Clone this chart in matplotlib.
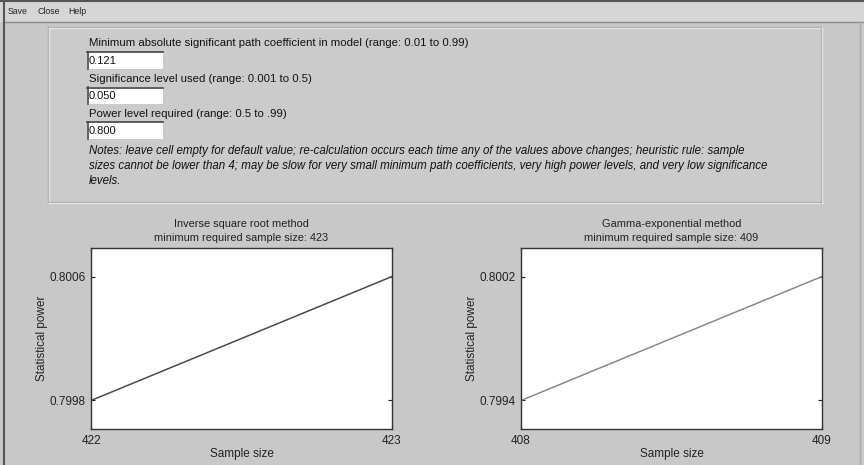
import matplotlib
matplotlib.use("Agg")
import matplotlib.pyplot as plt
from matplotlib.patches import Rectangle
from matplotlib.lines import Line2D
from matplotlib.ticker import FormatStrFormatter

plt.rcParams['font.family'] = ['Liberation Sans', 'DejaVu Sans']

# ---- data ----
menu_items = ["Save", "Close", "Help"]
field_labels = [
    "Minimum absolute significant path coefficient in model (range: 0.01 to 0.99)",
    "Significance level used (range: 0.001 to 0.5)",
    "Power level required (range: 0.5 to .99)",
]
field_values = ["0.121", "0.050", "0.800"]
notes_lines = [
    "Notes: leave cell empty for default value; re-calculation occurs each time any of the values above changes; heuristic rule: sample",
    "sizes cannot be lower than 4; may be slow for very small minimum path coefficients, very high power levels, and very low significance",
    "levels.",
]
left_title = "Inverse square root method\nminimum required sample size: 423"
left_sizes = [422, 423]
left_power = [0.7998, 0.8006]
right_title = "Gamma-exponential method\nminimum required sample size: 409"
right_sizes = [408, 409]
right_power = [0.7994, 0.8002]

W, H = 864, 465
BG = "#c8c8c8"
fig = plt.figure(figsize=(W / 100, H / 100), dpi=100, facecolor=BG)


def fx(x):
    return x / W


def fy(y):
    return 1 - y / H


def rect(x0, y0, x1, y1, **kw):
    fig.patches.append(Rectangle((fx(x0), fy(y1)), fx(x1) - fx(x0), fy(y0) - fy(y1),
                                 transform=fig.transFigure, **kw))


def hline(x0, x1, y, color, lw=1.0):
    fig.lines.append(Line2D([fx(x0), fx(x1)], [fy(y), fy(y)], transform=fig.transFigure,
                            color=color, lw=lw))


def vline(x, y0, y1, color, lw=1.0):
    fig.lines.append(Line2D([fx(x), fx(x)], [fy(y0), fy(y1)], transform=fig.transFigure,
                            color=color, lw=lw))


# window frame & menu bar
rect(0, 0, W, 22, facecolor="#d6d6d6", edgecolor="none")
hline(0, W, 1, "#555555", 1.5)
hline(4, W, 22, "#8a8a8a", 1.0)
vline(3.5, 1, H, "#555555", 1.5)
vline(860, 22, H, "#aaaaaa", 1.0)
menu_x = [8, 38, 68]
for x, t in zip(menu_x, menu_items):
    fig.text(fx(x), fy(12), t, fontsize=6.3, va="center", ha="left", color="#222222")

# input panel (etched border)
rect(48, 27, 822, 203, facecolor="#cbcbcb", edgecolor="none")
hline(48, 822, 27, "#a8a8a8")
hline(48, 822, 28, "#e4e4e4")
vline(48, 27, 203, "#a8a8a8")
vline(49, 28, 202, "#e4e4e4")
hline(48, 822, 202, "#a8a8a8")
hline(48, 823, 203, "#e4e4e4")
vline(821, 27, 203, "#a8a8a8")
vline(822, 27, 203, "#e4e4e4")

label_y = [43, 79, 114]
box_y = [(52, 69), (87, 104), (122, 139)]
for t, ly, (b0, b1), v in zip(field_labels, label_y, box_y, field_values):
    fig.text(fx(89), fy(ly), t, fontsize=8.2, va="center", ha="left", color="#111111")
    rect(87, b0, 163, b1, facecolor="white", edgecolor="none")
    hline(87, 163, b0 + 0.5, "#444444", 1.2)
    vline(87.5, b0, b1, "#444444", 1.2)
    fig.text(fx(89), fy((b0 + b1) / 2 + 0.5), v, fontsize=8.0, va="center", ha="left",
             color="#111111")

notes_y = [151, 166, 181]
for t, ny in zip(notes_lines, notes_y):
    fig.text(fx(89), fy(ny), t, fontsize=8.3, style="italic", va="center", ha="left",
             color="#111111")


def make_axes(x0, x1, y0, y1, sizes, power, title, color):
    ax = fig.add_axes([fx(x0), fy(y1), fx(x1) - fx(x0), fy(y0) - fy(y1)])
    ax.set_facecolor("white")
    ax.plot(sizes, power, color=color, lw=1.1)
    ax.set_xlim(sizes[0], sizes[1])
    rng = power[1] - power[0]
    ax.set_ylim(power[0] - 0.23 * rng, power[1] + 0.23 * rng)
    ax.set_xticks(sizes)
    ax.set_yticks(power)
    ax.yaxis.set_major_formatter(FormatStrFormatter("%.4f"))
    ax.tick_params(direction="in", length=3, width=0.8, labelsize=8.5, colors="#222222",
                   right=True, top=True, pad=4)
    for s in ax.spines.values():
        s.set_color("#333333")
        s.set_linewidth(1.0)
    ax.set_title(title, fontsize=7.9, color="#222222", pad=5, linespacing=1.45)
    ax.set_xlabel("Sample size", fontsize=8.5, color="#222222", labelpad=1)
    ax.set_ylabel("Statistical power", fontsize=8.5, color="#222222", labelpad=1)
    return ax


make_axes(91, 392, 248, 429, left_sizes, left_power, left_title, "#4a4a4a")
make_axes(521, 822, 248, 429, right_sizes, right_power, right_title, "#8a8a8a")

fig.savefig("out.png", dpi=100, facecolor=BG)
